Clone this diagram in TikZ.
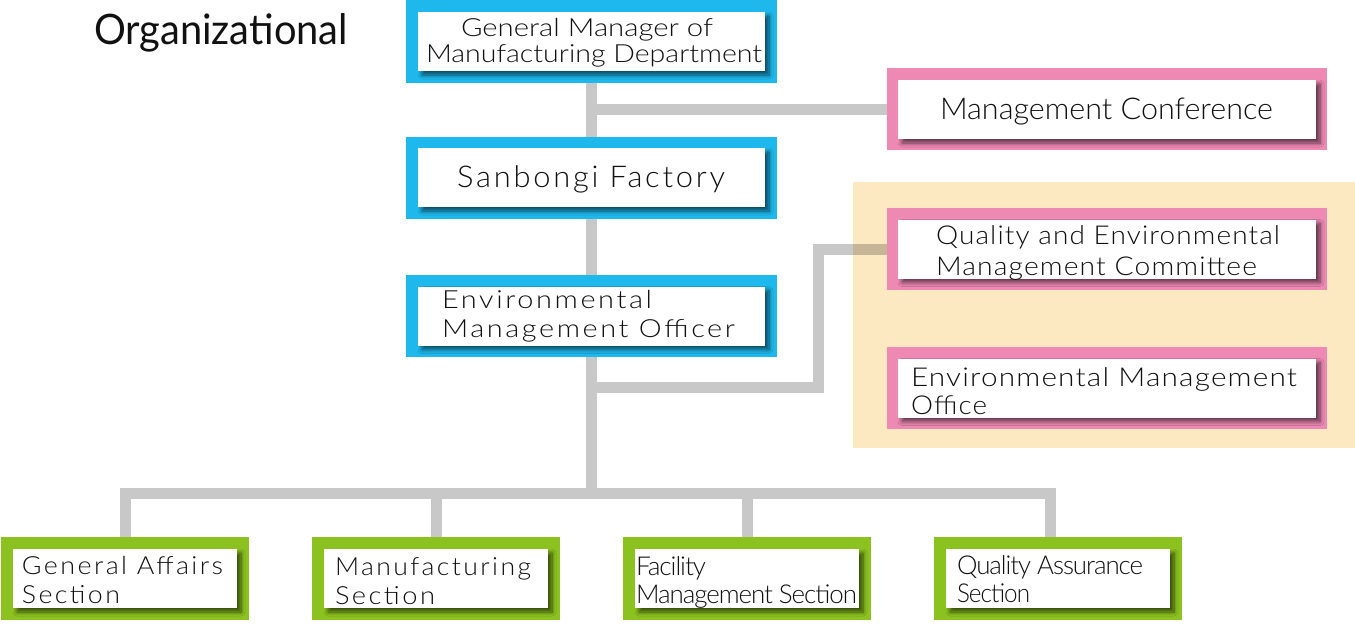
\documentclass[tikz,border=0pt]{standalone}
\usepackage{fontspec}
\usepackage{graphicx}
\setmainfont{Lato Light}
\newfontfamily\freg{Lato}
\newfontfamily\fnorm{Lato Light}
\newfontfamily\fwide{Lato Light}[LetterSpace=9]
\newfontfamily\fmid{Lato Light}[LetterSpace=4]
\newfontfamily\ftight{Lato Light}[LetterSpace=-4]
\usetikzlibrary{shadows.blur,backgrounds}
\definecolor{cblue}{RGB}{30,184,236}
\definecolor{cpink}{RGB}{238,137,180}
\definecolor{cgreen}{RGB}{140,194,31}
\definecolor{cbeige}{RGB}{253,233,193}
\definecolor{cline}{RGB}{200,200,200}
\definecolor{ctext}{RGB}{17,17,17}
\tikzset{
  outerbox/.style={fill=#1, draw=none, inner sep=0pt, outer sep=0pt},
  whitebox/.style={fill=white, draw=none, inner sep=0pt, outer sep=0pt,
    blur shadow={shadow xshift=4pt, shadow yshift=-4pt, shadow blur radius=4pt, shadow blur steps=8, shadow opacity=60}},
  txt/.style={inner sep=0pt, outer sep=0pt, text=ctext},
  conn/.style={draw=cline, line width=11pt},
}
\newcommand\tline[6]{\node[txt,anchor=base west] (#1) at (#2,#3) {\resizebox{#4pt}{\height}{\fontsize{#5}{#5}\selectfont #6}};}
\begin{document}
\begin{tikzpicture}[x=1pt,y=-1pt]
\useasboundingbox (0,0) rectangle (1355,634);
% blue boxes
\node[outerbox=cblue, minimum width=371pt, minimum height=83pt] (gm) at (591.5,41.5) {};
\node[whitebox, minimum width=347pt, minimum height=59pt] (gmw) at (591.5,41.5) {};
\node[outerbox=cblue, minimum width=371pt, minimum height=82pt] (sf) at (591.5,178) {};
\node[whitebox, minimum width=347pt, minimum height=59pt] (sfw) at (591.5,177.5) {};
\node[outerbox=cblue, minimum width=371pt, minimum height=82pt] (off) at (591.5,316) {};
\node[whitebox, minimum width=347pt, minimum height=59pt] (offw) at (591.5,316) {};
% pink boxes
\node[outerbox=cpink, minimum width=440pt, minimum height=82pt] (mc) at (1107,109) {};
\node[whitebox, minimum width=418pt, minimum height=59pt] (mcw) at (1107,109.5) {};
\node[outerbox=cpink, minimum width=440pt, minimum height=82pt] (qe) at (1107,249) {};
\node[whitebox, minimum width=418pt, minimum height=59pt] (qew) at (1107,249) {};
\node[outerbox=cpink, minimum width=440pt, minimum height=82pt] (eo) at (1107,388) {};
\node[whitebox, minimum width=418pt, minimum height=59pt] (eow) at (1107,388) {};
% green boxes
\node[outerbox=cgreen, minimum width=248pt, minimum height=83pt] (g1) at (125,578.5) {};
\node[whitebox, minimum width=224pt, minimum height=59pt] (g1w) at (125,578.5) {};
\node[outerbox=cgreen, minimum width=248pt, minimum height=83pt] (g2) at (436,578.5) {};
\node[whitebox, minimum width=224pt, minimum height=59pt] (g2w) at (436,578.5) {};
\node[outerbox=cgreen, minimum width=248pt, minimum height=83pt] (g3) at (747,578.5) {};
\node[whitebox, minimum width=224pt, minimum height=59pt] (g3w) at (747,578.5) {};
\node[outerbox=cgreen, minimum width=248pt, minimum height=83pt] (g4) at (1058,578.5) {};
\node[whitebox, minimum width=224pt, minimum height=59pt] (g4w) at (1058,578.5) {};
% connectors
\coordinate (mcj) at (591.5,109);
\coordinate (qj1) at (591.5,387.5);
\coordinate (qj2) at (818.5,387.5);
\coordinate (qj3) at (818.5,249);
\coordinate (busm) at (591.5,493);
\coordinate (busl) at (125,493);
\coordinate (busr) at (1050,493);
\coordinate (g4top) at (1050,537);
\begin{scope}[on background layer]
\draw[conn] (gm.south) -- (sf.north);
\draw[conn] (mcj) -- (mc.west);
\draw[conn] (sf.south) -- (off.north);
\draw[conn] (off.south) -- (busm);
\draw[conn] (qj1) -- (qj2) -- (qj3) -- (qe.west);
\draw[conn] (g1.north) -- (busl) -- (busr) -- (g4top);
\draw[conn] (g2.north) -- (g2.north |- busm);
\draw[conn] (g3.north) -- (g3.north |- busm);
\begin{scope}[blend mode=multiply]
\fill[cbeige] (853,182) rectangle (1355,448);
\end{scope}
\end{scope}
% texts
\node[txt,anchor=base west] (title) at (94,45) {\resizebox{254pt}{\height}{\fontsize{42}{42}\selectfont\freg Organizational}};
\tline{gm1}{461}{37}{252}{25}{\fnorm General Manager of}
\tline{gm2}{426}{63}{336}{25}{\fnorm Manufacturing Department}
\tline{sf1}{457}{187}{268}{30}{\fwide Sanbongi Factory}
\tline{of1}{442}{308}{210}{25}{\fwide Environmental}
\tline{of2}{442}{337}{293}{25}{\fwide Management Officer}
\tline{mc1}{940}{119}{333}{30}{\fnorm Management Conference}
\tline{qe1}{936}{244}{344}{26}{\fmid Quality and Environmental}
\tline{qe2}{936}{275}{321}{26}{\fmid Management Committee}
\tline{eo1}{911}{386}{386}{26}{\fmid Environmental Management}
\tline{eo2}{911}{414}{76}{26}{\fmid Office}
\tline{ga1}{22}{574}{201}{25}{\fwide General Affairs}
\tline{ga2}{22}{603}{98}{25}{\fwide Section}
\tline{ms1}{335}{575}{196}{25}{\fwide Manufacturing}
\tline{ms2}{335}{604}{100}{25}{\fwide Section}
\tline{fm1}{636}{575}{70}{26}{\ftight Facility}
\tline{fm2}{636}{603}{221}{26}{\ftight Management Section}
\tline{qa1}{957}{574}{186}{26}{\ftight Quality Assurance}
\tline{qa2}{957}{602}{73}{26}{\ftight Section}
\end{tikzpicture}
\end{document}
